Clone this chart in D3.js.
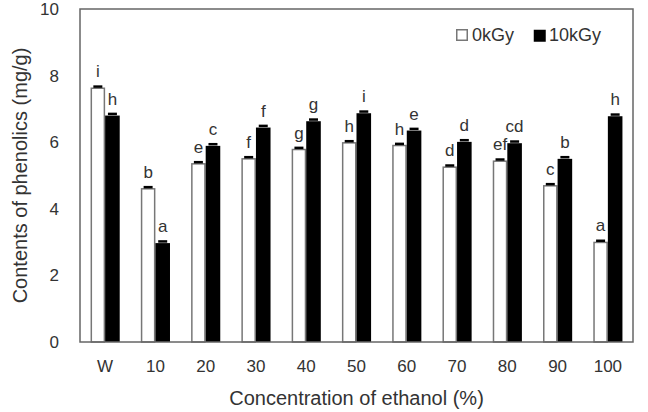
<!DOCTYPE html>
<html>
<head>
<meta charset="utf-8">
<script src="https://cdn.jsdelivr.net/npm/d3@7"></script>
<style>
  body { margin: 0; background: #fff; }
  text { font-family: "Liberation Sans", Arial, sans-serif; fill: #333; }
</style>
</head>
<body>
<script>
// chart data
const categories = ['W', '10', '20', '30', '40', '50', '60', '70', '80', '90', '100']
const series = ['0kGy', '10kGy']
const values0 = [7.62, 4.6, 5.35, 5.5, 5.78, 5.98, 5.9, 5.25, 5.43, 4.69, 2.99]
const values10 = [6.8, 2.97, 5.89, 6.44, 6.63, 6.87, 6.35, 6.01, 5.97, 5.5, 6.78]
const errors0 = [0.05, 0.05, 0.05, 0.05, 0.05, 0.05, 0.05, 0.05, 0.05, 0.05, 0.05]
const errors10 = [0.05, 0.05, 0.05, 0.05, 0.05, 0.05, 0.05, 0.05, 0.05, 0.05, 0.05]
const letters0 = ['i', 'b', 'e', 'f', 'g', 'h', 'h', 'd', 'ef', 'c', 'a']
const letters10 = ['h', 'a', 'c', 'f', 'g', 'i', 'e', 'd', 'cd', 'b', 'h']
const yTicks = [0, 2, 4, 6, 8, 10]

const width = 648, height = 412
const margin = { top: 9, right: 15, bottom: 70, left: 80 }

const svg = d3.select('body').append('svg')
  .attr('width', width)
  .attr('height', height)

const x = d3.scaleBand()
  .domain(categories)
  .range([margin.left, width - margin.right])
  .paddingInner(0.42)
  .paddingOuter(0.21)

const x1 = d3.scaleBand()
  .domain(series)
  .range([0, x.bandwidth()])

const y = d3.scaleLinear()
  .domain([0, 10])
  .range([height - margin.bottom, margin.top])

// build rows for the bars
const rows = []
categories.forEach((c, i) => {
  rows.push({ cat: c, s: '0kGy', v: values0[i], e: errors0[i], l: letters0[i] })
  rows.push({ cat: c, s: '10kGy', v: values10[i], e: errors10[i], l: letters10[i] })
})

const g = svg.append('g')
const cx = d => x(d.cat) + x1(d.s) + x1.bandwidth() / 2

// bars
g.selectAll('.bar')
  .data(rows)
  .enter()
  .append('rect')
  .attr('class', 'bar')
  .attr('x', d => x(d.cat) + x1(d.s) + (d.s === '0kGy' ? 0.75 : 0))
  .attr('width', d => x1.bandwidth() - (d.s === '0kGy' ? 1.5 : 0))
  .attr('y', d => y(d.v))
  .attr('height', d => y(0) - y(d.v))
  .attr('fill', d => d.s === '0kGy' ? '#fff' : '#000')
  .attr('stroke', d => d.s === '0kGy' ? '#777' : 'none')
  .attr('stroke-width', 1.5)

// error bar caps
g.selectAll('.err')
  .data(rows)
  .enter()
  .append('line')
  .attr('class', 'err')
  .attr('x1', d => cx(d) - 4.5)
  .attr('x2', d => cx(d) + 4.5)
  .attr('y1', d => y(d.v + d.e))
  .attr('y2', d => y(d.v + d.e))
  .attr('stroke', '#000')
  .attr('stroke-width', 2.5)

// significance letters
g.selectAll('.letter')
  .data(rows)
  .enter()
  .append('text')
  .attr('class', 'letter')
  .attr('x', cx)
  .attr('y', d => y(d.v) - 11)
  .attr('text-anchor', 'middle')
  .style('font-size', '17px')
  .text(d => d.l)

// frame box
svg.append('rect')
  .attr('x', margin.left)
  .attr('y', margin.top)
  .attr('width', width - margin.right - margin.left)
  .attr('height', y(0) - margin.top)
  .attr('fill', 'none')
  .attr('stroke', '#666')
  .attr('stroke-width', 1.5)

// y axis (labels only)
const yAxis = svg.append('g')
  .attr('transform', `translate(${margin.left},0)`)
  .call(d3.axisLeft(y).tickValues(yTicks).tickSize(0).tickPadding(21))
yAxis.select('.domain').remove()
yAxis.selectAll('text')
  .style('font-size', '17px')
  .style('font-family', '"Liberation Sans", Arial, sans-serif')
  .attr('fill', '#333')

// x axis (labels only)
const xAxis = svg.append('g')
  .attr('transform', `translate(0,${y(0)})`)
  .call(d3.axisBottom(x).tickSize(0).tickPadding(18))
xAxis.select('.domain').remove()
xAxis.selectAll('text')
  .style('font-size', '17px')
  .style('font-family', '"Liberation Sans", Arial, sans-serif')
  .attr('fill', '#333')

// axis titles
svg.append('text')
  .attr('x', (margin.left + width - margin.right) / 2)
  .attr('y', 405)
  .attr('text-anchor', 'middle')
  .style('font-size', '20px')
  .text('Concentration of ethanol (%)')

svg.append('text')
  .attr('transform', `translate(27,${(margin.top + y(0)) / 2}) rotate(-90)`)
  .attr('text-anchor', 'middle')
  .style('font-size', '20px')
  .text('Contents of phenolics (mg/g)')

// legend
const legend = svg.append('g').attr('transform', 'translate(456,29)')
series.forEach((s, i) => {
  const lx = i * 77
  legend.append('rect')
    .attr('x', lx + 0.75)
    .attr('y', 0.75)
    .attr('width', 12 - (i === 0 ? 1.5 : 0))
    .attr('height', 12 - (i === 0 ? 1.5 : 0))
    .attr('fill', i === 0 ? '#fff' : '#000')
    .attr('stroke', i === 0 ? '#777' : 'none')
    .attr('stroke-width', 1.5)
  legend.append('text')
    .attr('x', lx + 16)
    .attr('y', 12)
    .style('font-size', '18px')
    .text(s)
})
</script>
</body>
</html>
